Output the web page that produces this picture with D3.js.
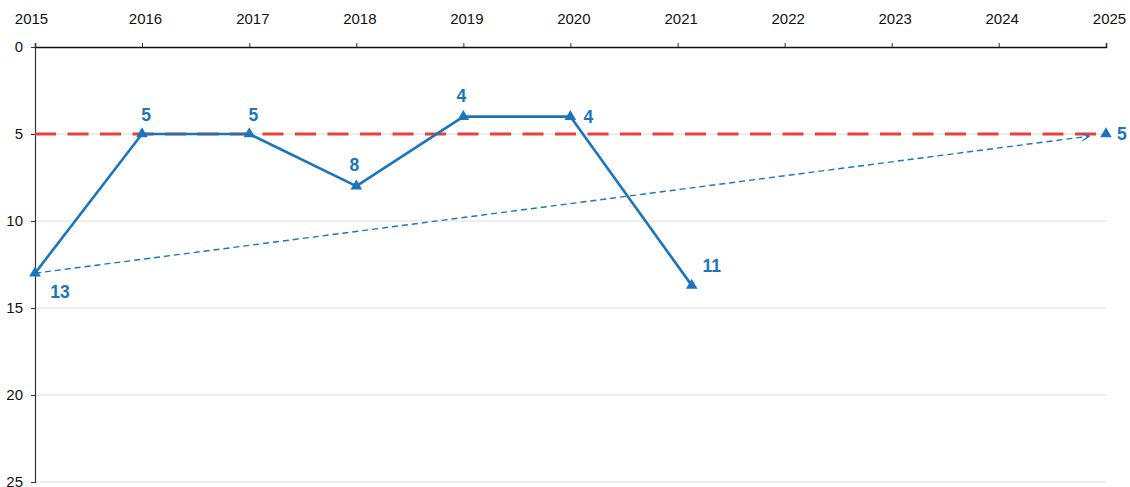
<!DOCTYPE html>
<html>
<head>
<meta charset="utf-8">
<script src="https://cdn.jsdelivr.net/npm/d3@7"></script>
<style>
  html, body { margin: 0; padding: 0; background: #fff; }
  svg { display: block; font-family: "Liberation Sans", Arial, Helvetica, sans-serif; }
</style>
</head>
<body>
<svg id="chart" width="1130" height="487"></svg>
<script>
// ---- data ----
const dates = ["2015-01-01", "2016-01-01", "2017-01-01", "2018-01-01", "2019-01-01", "2020-01-01", "2021-02-18"];
const values = [13, 5, 5, 8, 4, 4, 13.7];
const pointLabels = ["13", "5", "5", "8", "4", "4", "11"];
const labelPlacement = ["belowRight", "above", "above", "aboveCenter", "aboveCenter", "right", "aboveRight"];
const targetDate = "2025-01-01";
const targetValue = 5;
const targetLabel = "5";
const referenceValue = 5;
const xTickYears = [2015, 2016, 2017, 2018, 2019, 2020, 2021, 2022, 2023, 2024, 2025];
const yTicks = [0, 5, 10, 15, 20, 25];

// ---- layout ----
const W = 1130, H = 487;
const margin = { top: 47, right: 24, bottom: 5, left: 35 };
const blue = "#1a75bc";
const red = "#e8403a";

const svg = d3.select("#chart");
const parse = d3.timeParse("%Y-%m-%d");

const x = d3.scaleTime()
  .domain([new Date(2015, 0, 1), new Date(2025, 0, 1)])
  .range([margin.left, W - margin.right]);
const y = d3.scaleLinear()
  .domain([0, 25])
  .range([margin.top, H - margin.bottom]);

// gridlines
svg.append("g")
  .selectAll("line")
  .data(yTicks.filter(d => d > 0))
  .join("line")
  .attr("x1", margin.left).attr("x2", W - margin.right)
  .attr("y1", d => y(d)).attr("y2", d => y(d))
  .attr("stroke", "#dcdcdc").attr("stroke-width", 1);

// top x axis
const xAxis = d3.axisTop(x)
  .tickValues(xTickYears.map(yr => new Date(yr, 0, 1)))
  .tickFormat(d3.timeFormat("%Y"))
  .tickSize(4).tickPadding(19);
const gx = svg.append("g").attr("transform", `translate(0,${margin.top})`).call(xAxis);
gx.select(".domain").attr("stroke", "#111").attr("stroke-width", 1.5);
gx.selectAll(".tick line").attr("stroke", "#333");
gx.selectAll("text").attr("font-size", 15).attr("fill", "#111")
  .attr("dx", (d, i) => i === 0 ? -4 : 3)
  .attr("font-family", "'Liberation Sans', Arial, sans-serif");

// left y axis
const yAxis = d3.axisLeft(y).tickValues(yTicks).tickSize(4).tickPadding(8);
const gy = svg.append("g").attr("transform", `translate(${margin.left},0)`).call(yAxis);
gy.select(".domain").attr("stroke", "#333").attr("stroke-width", 1.2);
gy.selectAll(".tick line").attr("stroke", "#333");
gy.selectAll("text").attr("font-size", 15).attr("fill", "#111")
  .attr("font-family", "'Liberation Sans', Arial, sans-serif");

// reference dashed red line
svg.append("line")
  .attr("x1", margin.left).attr("x2", W - margin.right)
  .attr("y1", y(referenceValue)).attr("y2", y(referenceValue))
  .attr("stroke", red).attr("stroke-width", 3)
  .attr("stroke-dasharray", "21 11.5");

// arrow marker
const defs = svg.append("defs");
defs.append("marker")
  .attr("id", "arrow")
  .attr("viewBox", "0 0 10 10")
  .attr("refX", 9).attr("refY", 5)
  .attr("markerWidth", 9).attr("markerHeight", 9)
  .attr("markerUnits", "userSpaceOnUse")
  .attr("orient", "auto")
  .append("path")
  .attr("d", "M1,1 L9,5 L1,9")
  .attr("fill", "none").attr("stroke", blue).attr("stroke-width", 1.4);

// target trend line (dashed)
const x0 = x(parse(dates[0])), y0 = y(values[0]);
const xt = x(parse(targetDate)), yt = y(targetValue);
const len = Math.hypot(xt - x0, yt - y0);
const shorten = 17;
const xe = xt - (xt - x0) * shorten / len, ye = yt - (yt - y0) * shorten / len;
svg.append("line")
  .attr("x1", x0).attr("y1", y0).attr("x2", xe).attr("y2", ye)
  .attr("stroke", blue).attr("stroke-width", 1.4)
  .attr("stroke-dasharray", "6 4")
  .attr("marker-end", "url(#arrow)");

// main series line
const pts = dates.map((d, i) => ({ date: parse(d), value: values[i], label: pointLabels[i], place: labelPlacement[i] }));
svg.append("path")
  .datum(pts)
  .attr("fill", "none").attr("stroke", blue).attr("stroke-width", 2.6)
  .attr("stroke-linejoin", "round")
  .attr("d", d3.line().x(d => x(d.date)).y(d => y(d.value)));

const tri = d3.symbol().type(d3.symbolTriangle).size(58);
svg.append("g").selectAll("path")
  .data(pts)
  .join("path")
  .attr("d", tri)
  .attr("transform", d => `translate(${x(d.date)},${y(d.value)})`)
  .attr("fill", blue);

// target marker
svg.append("path")
  .attr("d", tri)
  .attr("transform", `translate(${xt},${yt})`)
  .attr("fill", blue);

// labels
const offsets = {
  above: [4, -19],
  aboveCenter: [-2, -21],
  right: [18, 0],
  belowRight: [25, 19],
  aboveRight: [20, -19]
};
svg.append("g").selectAll("text")
  .data(pts)
  .join("text")
  .attr("x", d => x(d.date) + offsets[d.place][0])
  .attr("y", d => y(d.value) + offsets[d.place][1])
  .attr("text-anchor", "middle")
  .attr("dominant-baseline", "central")
  .attr("font-size", 17.5).attr("font-weight", "bold")
  .attr("fill", blue)
  .text(d => d.label);

svg.append("text")
  .attr("x", xt + 11).attr("y", yt)
  .attr("dominant-baseline", "central")
  .attr("font-size", 17.5).attr("font-weight", "bold")
  .attr("fill", blue)
  .text(targetLabel);
</script>
</body>
</html>
